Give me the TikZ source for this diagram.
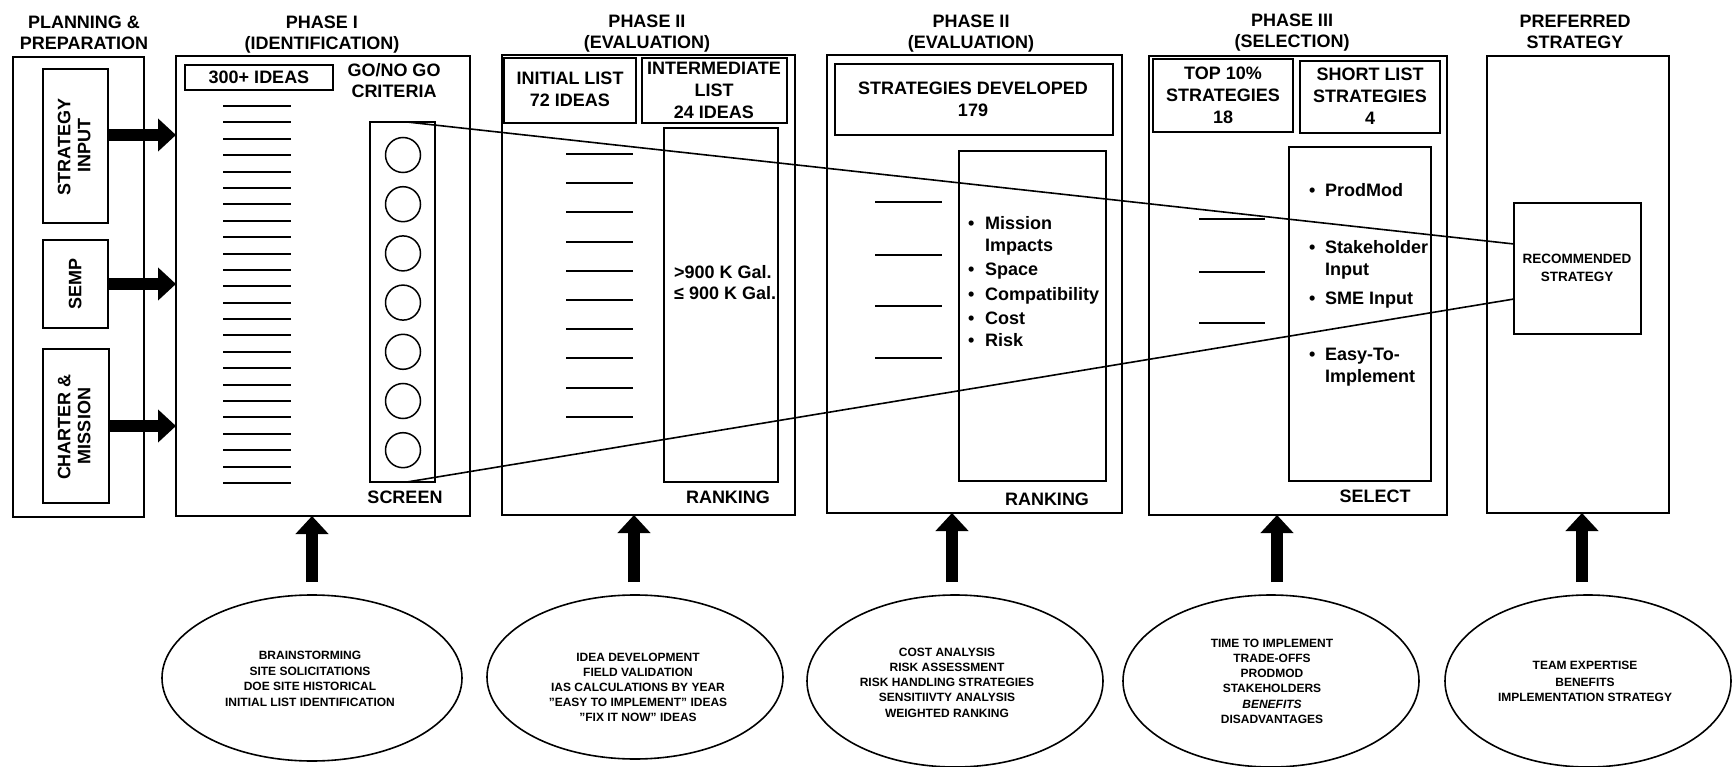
\documentclass[tikz,border=0pt]{standalone}
\usepackage{fontspec}
\setmainfont{Liberation Sans}
\usetikzlibrary{arrows.meta,shapes.geometric}
\newcommand\mybox[5]{\node[box,minimum width={#4-#2},minimum height={#5-#3}] (#1) at ({(#2+#4)/2},{(#3+#5)/2}) {};}
\begin{document}
\begin{tikzpicture}[x=1pt,y=-1pt,
  box/.style={draw,line width=1.8pt,inner sep=0pt,outer sep=0pt,rectangle},
  big/.style={font=\fontsize{18}{21}\selectfont\bfseries,inner sep=0pt,text height=12.9pt,text depth=0pt},
  mid/.style={font=\fontsize{13.5}{16}\selectfont\bfseries,inner sep=0pt,text height=9.7pt,text depth=0pt},
  sm/.style={font=\fontsize{12}{15}\selectfont\bfseries,inner sep=0pt,text height=8.6pt,text depth=0pt},
  bl/.style={big,anchor=west},
  oval/.style={draw,ellipse,line width=1.6pt,inner sep=0pt},
  tick/.style={line width=2pt},
  funnel/.style={line width=1.6pt},
  bigarrow/.style={line width=12pt,-{Triangle[width=32pt,length=18pt]}}]
\useasboundingbox (0,0) rectangle (1733,767);
\fill[white] (0,0) rectangle (1733,767);

% ---------- titles ----------
\node[big] (tPa) at (84,22) {PLANNING \&};
\node[big] (tPb) at (84,43) {PREPARATION};
\node[big] (t1a) at (322,22) {PHASE I};
\node[big] (t1b) at (322,43) {(IDENTIFICATION)};
\node[big] (t2a) at (647,21) {PHASE II};
\node[big] (t2b) at (647,42) {(EVALUATION)};
\node[big] (t3a) at (971,21) {PHASE II};
\node[big] (t3b) at (971,42) {(EVALUATION)};
\node[big] (t4a) at (1292,20) {PHASE III};
\node[big] (t4b) at (1292,41) {(SELECTION)};
\node[big] (t5a) at (1575,21) {PREFERRED};
\node[big] (t5b) at (1575,42) {STRATEGY};

% ---------- planning ----------
\mybox{plan}{13}{57}{144}{517}
\mybox{si}{43}{69}{108}{223}
\mybox{semp}{43}{240}{108}{328}
\mybox{cm}{43}{349}{109}{503}
\node[big,rotate=90] (siA) at (64,147) {STRATEGY};
\node[big,rotate=90] (siB) at (84,146) {INPUT};
\node[big,rotate=90] (sempA) at (75,284) {SEMP};
\node[big,rotate=90] (cmA) at (64,427) {CHARTER \&};
\node[big,rotate=90] (cmB) at (84,426) {MISSION};

% ---------- phase I ----------
\mybox{p1}{176}{56}{470}{516}
\node[box,big,minimum width=148,minimum height=25] (ideas) at (259,77.5) {300+ IDEAS};
\node[big] (gA) at (394,70) {GO/NO GO};
\node[big] (gB) at (394,91) {CRITERIA};
\mybox{circ}{370}{122}{435}{482}
\foreach \i in {0,...,6} \draw[line width=1.5pt] (403,{155+49.2*\i}) circle[radius=17.5pt];
\foreach \i in {0,...,23} \draw[tick] (223,{106+16.39*\i}) -- (291,{106+16.39*\i});
\node[big] (scr) at (405,497) {SCREEN};

% ---------- phase II a ----------
\mybox{p2}{502}{55}{795}{515}
\mybox{il}{504}{58}{636}{123}
\mybox{iml}{642}{58}{787}{123}
\node[big] (ilA) at (570,78) {INITIAL LIST};
\node[big] (ilB) at (570,100) {72 IDEAS};
\node[big] (imA) at (714,68) {INTERMEDIATE};
\node[big] (imB) at (714,90) {LIST};
\node[big] (imC) at (714,112) {24 IDEAS};
\mybox{rk2}{664}{128}{778}{482}
\foreach \i in {0,...,9} \draw[tick] (566,{154+29.2*\i}) -- (633,{154+29.2*\i});
\node[bl] (galA) at (674,272) {>900 K Gal.};
\node[bl] (galB) at (674,293) {≤ 900 K Gal.};
\node[big] (rkA) at (728,497) {RANKING};

% ---------- phase II b ----------
\mybox{p3}{827}{55}{1122}{513}
\mybox{sd}{835}{64}{1113}{135}
\node[big] (sdA) at (973,88) {STRATEGIES DEVELOPED};
\node[big] (sdB) at (973,110) {179};
\mybox{rk3}{959}{151}{1106}{481}
\foreach \y in {202,255,306,358} \draw[tick] (875,\y) -- (942,\y);
\node[bl] (b1) at (968,223) {\makebox[17pt][l]{•}Mission};
\node[bl] (b2) at (968,245) {\makebox[17pt][l]{}Impacts};
\node[bl] (b3) at (968,269) {\makebox[17pt][l]{•}Space};
\node[bl] (b4) at (968,294) {\makebox[17pt][l]{•}Compatibility};
\node[bl] (b5) at (968,318) {\makebox[17pt][l]{•}Cost};
\node[bl] (b6) at (968,340) {\makebox[17pt][l]{•}Risk};
\node[big] (rkB) at (1047,499) {RANKING};

% ---------- phase III ----------
\mybox{p4}{1149}{56}{1447}{515}
\mybox{top}{1153}{59}{1293}{132}
\mybox{sl}{1300}{61}{1440}{133}
\node[big] (tpA) at (1223,73) {TOP 10\%};
\node[big] (tpB) at (1223,95) {STRATEGIES};
\node[big] (tpC) at (1223,117) {18};
\node[big] (slA) at (1370,74) {SHORT LIST};
\node[big] (slB) at (1370,96) {STRATEGIES};
\node[big] (slC) at (1370,118) {4};
\mybox{sel}{1289}{147}{1431}{481}
\foreach \y in {219,272,323} \draw[tick] (1199,\y) -- (1265,\y);
\node[bl] (c1) at (1309,190) {\makebox[16pt][l]{•}ProdMod};
\node[bl] (c2) at (1309,247) {\makebox[16pt][l]{•}Stakeholder};
\node[bl] (c3) at (1309,269) {\makebox[16pt][l]{}Input};
\node[bl] (c4) at (1309,298) {\makebox[16pt][l]{•}SME Input};
\node[bl] (c5) at (1309,354) {\makebox[16pt][l]{•}Easy-To-};
\node[bl] (c6) at (1309,376) {\makebox[16pt][l]{}Implement};
\node[big] (selA) at (1375,496) {SELECT};

% ---------- preferred ----------
\mybox{pref}{1487}{56}{1669}{513}
\mybox{rec}{1514}{203}{1641}{334}
\node[mid] (recA) at (1577,259) {RECOMMENDED};
\node[mid] (recB) at (1577,277) {STRATEGY};

% ---------- funnel ----------
\coordinate (ft) at (407,122);
\coordinate (fb) at (407,482);
\coordinate (rt) at ([yshift=24.5pt]rec.west);
\coordinate (rb) at ([yshift=-30.5pt]rec.west);
\draw[funnel] (ft) -- (rt);
\draw[funnel] (fb) -- (rb);

% ---------- left arrows ----------
\coordinate (a1) at ([yshift=11pt]si.east);
\draw[bigarrow] (a1) -- (a1 -| p1.west);
\draw[bigarrow] (semp.east) -- (semp.east -| p1.west);
\draw[bigarrow] (cm.east) -- (cm.east -| p1.west);

% ---------- ellipses ----------
\node[oval,minimum width=300,minimum height=166] (e1) at (312,678) {};
\node[oval,minimum width=296,minimum height=164] (e2) at (635,677) {};
\node[oval,minimum width=296,minimum height=172] (e3) at (955,681) {};
\node[oval,minimum width=296,minimum height=172] (e4) at (1271,681) {};
\node[oval,minimum width=286,minimum height=172] (e5) at (1588,681) {};

\node[sm] (e1a) at (310,655) {BRAINSTORMING};
\node[sm] (e1b) at (310,671) {SITE SOLICITATIONS};
\node[sm] (e1c) at (310,686) {DOE SITE HISTORICAL};
\node[sm] (e1d) at (310,702) {INITIAL LIST IDENTIFICATION};

\node[sm] (e2a) at (638,657) {IDEA DEVELOPMENT};
\node[sm] (e2b) at (638,672) {FIELD VALIDATION};
\node[sm] (e2c) at (638,687) {IAS CALCULATIONS BY YEAR};
\node[sm] (e2d) at (638,702) {"EASY TO IMPLEMENT" IDEAS};
\node[sm] (e2e) at (638,717) {"FIX IT NOW" IDEAS};

\node[sm] (e3a) at (947,652) {COST ANALYSIS};
\node[sm] (e3b) at (947,667) {RISK ASSESSMENT};
\node[sm] (e3c) at (947,682) {RISK HANDLING STRATEGIES};
\node[sm] (e3d) at (947,697) {SENSITIIVTY ANALYSIS};
\node[sm] (e3e) at (947,713) {WEIGHTED RANKING};

\node[sm] (e4a) at (1272,643) {TIME TO IMPLEMENT};
\node[sm] (e4b) at (1272,658) {TRADE-OFFS};
\node[sm] (e4c) at (1272,673) {PRODMOD};
\node[sm] (e4d) at (1272,688) {STAKEHOLDERS};
\node[sm] (e4e) at (1272,704) {\itshape BENEFITS};
\node[sm] (e4f) at (1272,719) {DISADVANTAGES};

\node[sm] (e5a) at (1585,665) {TEAM EXPERTISE};
\node[sm] (e5b) at (1585,682) {BENEFITS};
\node[sm] (e5c) at (1585,697) {IMPLEMENTATION STRATEGY};

% ---------- up arrows ----------
\coordinate (u1) at ([yshift=12pt]e1.north);
\coordinate (u2) at ([yshift=12pt,xshift=-1pt]e2.north);
\coordinate (u3) at ([yshift=12pt,xshift=-3pt]e3.north);
\coordinate (u4) at ([yshift=12pt,xshift=6pt]e4.north);
\coordinate (u5) at ([yshift=12pt,xshift=-6pt]e5.north);
\draw[bigarrow] (u1) -- (u1 |- p1.south);
\draw[bigarrow] (u2) -- (u2 |- p2.south);
\draw[bigarrow] (u3) -- (u3 |- p3.south);
\draw[bigarrow] (u4) -- (u4 |- p4.south);
\draw[bigarrow] (u5) -- (u5 |- pref.south);
\end{tikzpicture}
\end{document}
